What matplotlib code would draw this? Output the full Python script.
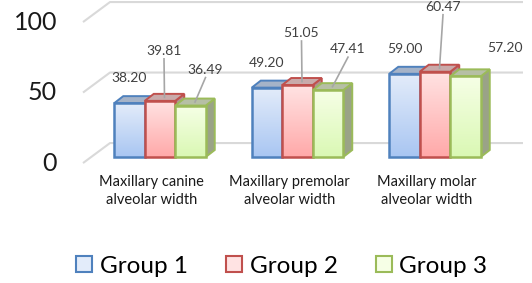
import numpy as np
import matplotlib
matplotlib.use("Agg")
import matplotlib.pyplot as plt
from matplotlib.patches import Polygon, Rectangle, Patch

plt.rcParams['font.family'] = ['Lato', 'DejaVu Sans']

categories = ["Maxillary canine\nalveolar width",
              "Maxillary premolar\nalveolar width",
              "Maxillary molar\nalveolar width"]
groups = ["Group 1", "Group 2", "Group 3"]
group1 = [38.20, 49.20, 59.00]
group2 = [39.81, 51.05, 60.47]
group3 = [36.49, 47.41, 57.20]
yticks = [0, 50, 100]

# styling
front_top = ["#e3ecfa", "#ffe3e3", "#f6ffe6"]
front_bot = ["#a9c6f2", "#ffa9a9", "#daf8b4"]
edges = ["#4f81bd", "#c0504d", "#9bbb59"]
top_cols = ["#a5b3c8", "#c9aaaa", "#b6bfa5"]
side_cols = ["#8d9cb3", "#b09090", "#9aa387"]
# label offsets (pixels) relative to bar front-top centre, and leader flag
lab_off = [
    [(0, 25), (4, 50), (15, 36)],
    [(0, 25), (4, 52), (20, 41)],
    [(0, 25), (8, 65), (39, 28)],
]
leader = [[False, True, True], [False, True, True], [False, True, False]]

W, H = 532, 283
fig = plt.figure(figsize=(W / 100, H / 100), dpi=100)
ax = fig.add_axes([0, 0, 1, 1])
ax.axis('off')

# pixel scale
px_x = 137.5   # px per category
px_y = 1.41    # px per value unit
x0_px, y0_px = 160, 157
ax.set_xlim((0 - x0_px) / px_x, (W - x0_px) / px_x)
ax.set_ylim(-(H - y0_px) / px_y, y0_px / px_y)

bw = 30.5 / px_x
ddx = 9 / px_x
ddy = 7 / px_y

# back-wall grid
for v in yticks:
    xs = [(83 - x0_px) / px_x, (110 - x0_px) / px_x, (523 - x0_px) / px_x]
    ys = [v - 4.3, v + 9.9, v + 9.9]
    ax.plot(xs, ys, color="#d9d9d9", lw=1.5, zorder=1, solid_capstyle='butt')
    ax.text((57 - x0_px) / px_x, v - 4.3, str(v), ha='right', va='center',
            fontsize=18, color="#1a1a1a")

series = [group1, group2, group3]
grad = np.linspace(0, 1, 64).reshape(-1, 1)
for gi in range(len(categories)):
    for si, vals in enumerate(series):
        v = vals[gi]
        xc = gi + (si - 1) * bw
        xl, xr = xc - bw / 2, xc + bw / 2
        z = 10 + gi * 10 + si * 3
        side = Polygon([(xr, 0), (xr + ddx, ddy), (xr + ddx, v + ddy), (xr, v)],
                       closed=True, fc=side_cols[si], ec=edges[si], lw=1.4, zorder=z)
        top = Polygon([(xl, v), (xl + ddx, v + ddy), (xr + ddx, v + ddy), (xr, v)],
                      closed=True, fc=top_cols[si], ec=edges[si], lw=1.4, zorder=z)
        ax.add_patch(side)
        ax.add_patch(top)
        c1 = np.array(matplotlib.colors.to_rgb(front_top[si]))
        c2 = np.array(matplotlib.colors.to_rgb(front_bot[si]))
        img = c1[None, None, :] * (1 - grad[:, :, None]) + c2[None, None, :] * grad[:, :, None]
        im = ax.imshow(img, extent=(xl, xr, 0, v), origin='upper', aspect='auto',
                       zorder=z + 1, interpolation='bilinear')
        rect = Rectangle((xl, 0), bw, v, fc='none', ec=edges[si], lw=1.8, zorder=z + 2)
        ax.add_patch(rect)
        im.set_clip_path(rect)

        # data label
        ox, oy = lab_off[gi][si]
        lx = xc + ox / px_x
        ly = v + oy / px_y
        ax.text(lx, ly, f"{v:.2f}", ha='center', va='center', fontsize=10,
                color="#404040", zorder=50)
        if leader[gi][si]:
            ax.plot([lx, xc + ddx / 2], [ly - 8 / px_y, v + ddy / 2],
                    color="#a6a6a6", lw=1.2, zorder=z + 2.5)

for gi, cat in enumerate(categories):
    ax.text(gi - 0.06, -12.5, cat, ha='center', va='top', fontsize=10.5,
            color="#1a1a1a", linespacing=1.4)

handles = [Patch(fc=front_top[i], ec=edges[i], lw=1.5) for i in range(3)]
fig.legend(handles, groups, loc='center', bbox_to_anchor=(0.53, 0.06), ncol=3,
           frameon=False, fontsize=17.5, handlelength=0.65, handleheight=0.65,
           handletextpad=0.3, columnspacing=1.6, borderpad=0.1)

fig.savefig("out.png", dpi=100)
